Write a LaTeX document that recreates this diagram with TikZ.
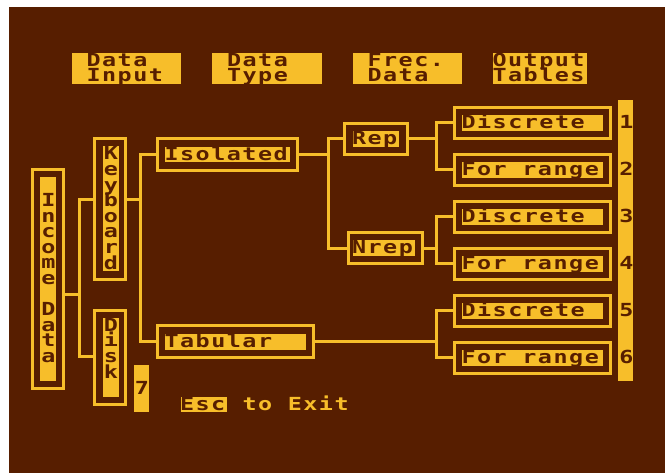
\documentclass[tikz,border=0pt]{standalone}
\usepackage{fontspec}
\newfontfamily\atarifont[FakeStretch=1.3,LetterSpace=8.4]{DejaVu Sans Mono}
\definecolor{ay}{RGB}{247,190,42}
\definecolor{ab}{RGB}{87,30,0}
\tikzset{
  frame/.style={draw=ay, line width=3pt, inner sep=0pt, outer sep=0pt},
  fillbox/.style={fill=ay, inner sep=0pt, outer sep=0pt},
  wire/.style={draw=ay, line width=3pt, line join=miter},
  lbl/.style={font={\atarifont\bfseries\fontsize{18}{15.6}\selectfont}, text=ab, inner sep=0pt, outer sep=0pt, text height=11pt, text depth=2pt, anchor=base west},
  vlbl/.style={lbl, anchor=base},
  ylbl/.style={lbl, text=ay},
}
\begin{document}
\begin{tikzpicture}[x=1pt,y=-1pt]
\useasboundingbox (0,0) rectangle (665,473);
\fill[white] (0,0) rectangle (665,473);
\fill[ab] (9,7) rectangle (665,473);

% header boxes
\node[fillbox, minimum width=109pt, minimum height=31.6pt] (hdi) at (126.2,68.5) {};
\node[lbl] (hdi1) at (86.5,66.1) {Data};
\node[lbl] (hdi2) at (86.5,81.9) {Input};
\node[fillbox, minimum width=109.4pt, minimum height=31.6pt] (hdt) at (267,68.5) {};
\node[lbl] (hdt1) at (227,66.1) {Data};
\node[lbl] (hdt2) at (227,81.9) {Type};
\node[fillbox, minimum width=109pt, minimum height=31.6pt] (hfd) at (407.2,68.5) {};
\node[lbl] (hfd1) at (367.5,66.1) {Frec.};
\node[lbl] (hfd2) at (367.5,81.9) {Data};
\node[fillbox, minimum width=93.4pt, minimum height=31.6pt] (hot) at (540,68.5) {};
\node[lbl] (hot1) at (492.5,66.1) {Output};
\node[lbl] (hot2) at (492.5,81.9) {Tables};

% Income Data
\node[frame, minimum width=31pt, minimum height=219pt] (inc) at (48,279) {};
\node[fillbox, minimum width=16pt, minimum height=204pt] (incf) at (48,279) {};
\foreach \i/\ch in {0/I,1/n,2/c,3/o,4/m,5/e,7/D,8/a,9/t,10/a}
  \node[vlbl] (incl\i) at (48.5,{206.6+15.6*\i}) {\ch};

% Keyboard
\node[frame, minimum width=31pt, minimum height=140.4pt] (kb) at (110.3,209) {};
\node[fillbox, minimum width=16pt, minimum height=125pt] (kbf) at (110.5,209) {};
\foreach \i/\ch in {0/K,1/e,2/y,3/b,4/o,5/a,6/r,7/d}
  \node[vlbl] (kbl\i) at (111,{160+15.6*\i}) {\ch};

% Disk
\node[frame, minimum width=31pt, minimum height=94pt] (dk) at (110.3,357.5) {};
\node[fillbox, minimum width=16pt, minimum height=79pt] (dkf) at (110.5,357.5) {};
\foreach \i/\ch in {0/D,1/i,2/s,3/k}
  \node[vlbl] (dkl\i) at (111,{331.4+15.6*\i}) {\ch};

% 7 box
\node[fillbox, minimum width=15pt, minimum height=47pt] (sev) at (141.5,388.5) {};
\node[vlbl] (sevl) at (142,395) {7};

% Isolated
\node[frame, minimum width=140.6pt, minimum height=31.4pt] (iso) at (227.5,154.5) {};
\node[fillbox, minimum width=124.7pt, minimum height=15.6pt] (isof) at (227.65,154.5) {};
\node[lbl] (isol) at (164.5,160.1) {Isolated};

% Tabular
\node[frame, minimum width=156.3pt, minimum height=31.7pt] (tab) at (235.35,341.65) {};
\node[fillbox, minimum width=140.7pt, minimum height=16pt] (tabf) at (235.65,342) {};
\node[lbl] (tabl) at (164.5,347.6) {Tabular};

% Rep
\node[frame, minimum width=62.7pt, minimum height=30.7pt] (rep) at (376.15,138.85) {};
\node[fillbox, minimum width=46.6pt, minimum height=15.4pt] (repf) at (376,139) {};
\node[lbl] (repl) at (352,144.6) {Rep};

% Nrep
\node[frame, minimum width=74.3pt, minimum height=30.7pt] (nrep) at (385.35,248.15) {};
\node[fillbox, minimum width=62.3pt, minimum height=16pt] (nrepf) at (383.85,248) {};
\node[lbl] (nrepl) at (352,253.6) {Nrep};

% output tables
\foreach \i/\t in {1/Discrete,2/For range,3/Discrete,4/For range,5/Discrete,6/For range} {
  \node[frame, minimum width=156pt, minimum height=31pt] (o\i) at (532.2,{123+47*(\i-1)}) {};
  \node[fillbox, minimum width=140.4pt, minimum height=15.6pt] (of\i) at (532.5,{123+47*(\i-1)}) {};
  \node[lbl] (ol\i) at (461.5,{128.6+47*(\i-1)}) {\t};
}

% number bar
\node[fillbox, minimum width=15pt, minimum height=281pt] (nbar) at (625.8,240.5) {};
\foreach \i in {1,...,6}
  \node[vlbl] (num\i) at (626.5,{128.6+47*(\i-1)}) {\i};

% Esc to Exit
\node[fillbox, minimum width=46.6pt, minimum height=15.6pt] (esc) at (204,404.5) {};
\node[lbl] (escl) at (180,410.1) {Esc};
\node[ylbl] (exitl) at (242.5,410.1) {to Exit};

% connectors
\coordinate (ja) at (79.3,295);
\coordinate (jb) at (140.7,200);
\coordinate (jc) at (328.3,154.5);
\coordinate (jd) at (436.7,138.85);
\coordinate (je) at (436.7,248.15);
\coordinate (jf) at (436.7,341.65);

\draw[wire] (inc.east |- ja) -- (ja);
\draw[wire] (kb.west |- 0,200) -| (ja) |- (dk.west |- 0,357);
\draw[wire] (kb.east |- jb) -- (jb);
\draw[wire] (iso.west) -| (jb) |- (tab.west);
\draw[wire] (iso.east) -- (jc);
\draw[wire] (rep.west) -| (jc) |- (nrep.west);
\draw[wire] (rep.east) -- (jd);
\draw[wire] (o1.west) -| (jd) |- (o2.west);
\draw[wire] (nrep.east) -- (je);
\draw[wire] (o3.west) -| (je) |- (o4.west);
\draw[wire] (tab.east) -- (jf);
\draw[wire] (o5.west) -| (jf) |- (o6.west);
\end{tikzpicture}
\end{document}
